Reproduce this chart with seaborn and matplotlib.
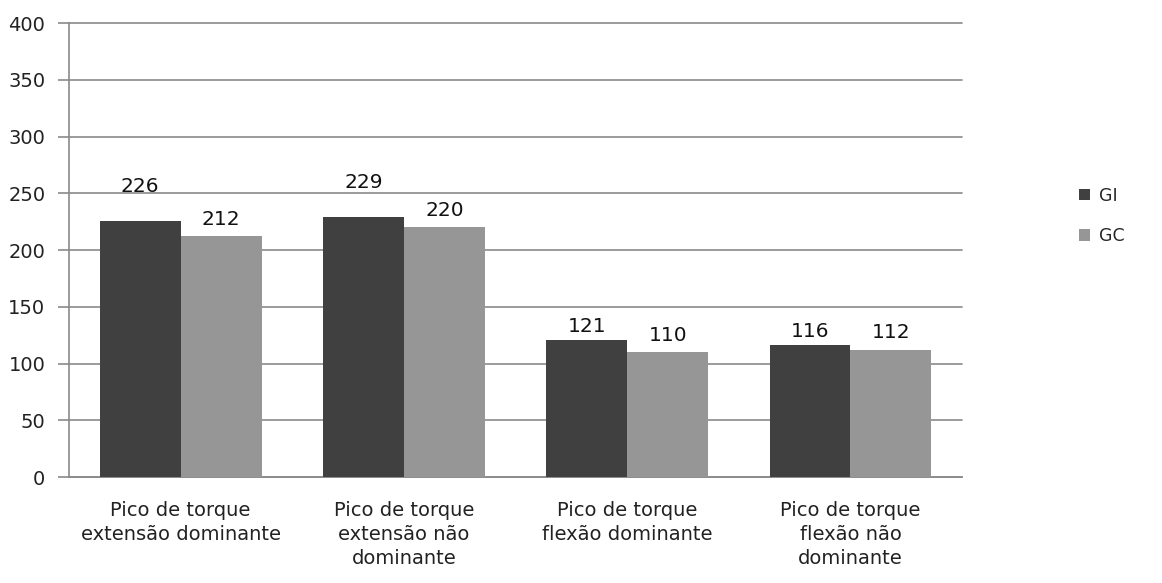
import numpy as np
import pandas as pd
import matplotlib
matplotlib.use("Agg")
import matplotlib.pyplot as plt
import seaborn as sns

categories = [
    "Pico de torque\nextensão dominante",
    "Pico de torque\nextensão não\ndominante",
    "Pico de torque\nflexão dominante",
    "Pico de torque\nflexão não\ndominante",
]
groups = ["GI", "GC"]
gi_values = [226, 229, 121, 116]
gc_values = [212, 220, 110, 112]
y_ticks = [0, 50, 100, 150, 200, 250, 300, 350, 400]

# vertical offset of each value label above its bar, in points
gi_label_offsets = [18, 18, 3, 3]
gc_label_offsets = [5, 5, 5, 6]

df = pd.DataFrame({
    "categoria": categories * 2,
    "grupo": [groups[0]] * len(categories) + [groups[1]] * len(categories),
    "valor": gi_values + gc_values,
})

sns.set_theme(style="white")
plt.rcParams["font.family"] = ["DejaVu Sans"]

fig = plt.figure(figsize=(11.62, 5.83), dpi=100)
ax = fig.add_axes([0.0594, 0.1818, 0.7686, 0.7787])

palette = {"GI": "#404040", "GC": "#969696"}
sns.barplot(data=df, x="categoria", y="valor", hue="grupo", hue_order=groups,
            palette=palette, width=0.725, gap=0, saturation=1,
            edgecolor="none", linewidth=0, ax=ax, zorder=3)

ax.set_xlim(-0.5, len(categories) - 0.5)
ax.set_ylim(0, 400)
ax.set_yticks(y_ticks)
ax.set_yticklabels([str(t) for t in y_ticks], fontsize=14, color="#222222")
ax.yaxis.grid(True, color="#8a8a8a", linewidth=1.2, zorder=0)
for gl in ax.get_ygridlines():
    gl.set_clip_on(False)
ax.xaxis.grid(False)
ax.set_axisbelow(True)

ax.set_xticks(range(len(categories)))
ax.set_xticklabels(categories, fontsize=14, color="#222222", linespacing=1.35)
ax.set_xticks(np.arange(-0.5, len(categories)), minor=True)
ax.tick_params(axis="x", which="major", length=0, pad=17)
ax.tick_params(axis="x", which="minor", length=8, width=1.2, color="#8a8a8a", direction="out")
ax.tick_params(axis="y", length=8, width=1.2, color="#8a8a8a", direction="out", pad=9, left=True)

for side in ["top", "right"]:
    ax.spines[side].set_visible(False)
for side in ["left", "bottom"]:
    ax.spines[side].set_color("#8a8a8a")
    ax.spines[side].set_linewidth(1.2)
ax.set_xlabel("")
ax.set_ylabel("")

for container, vals, offs in zip(ax.containers, [gi_values, gc_values],
                                 [gi_label_offsets, gc_label_offsets]):
    for bar, v, off in zip(container, vals, offs):
        ax.annotate(str(v), (bar.get_x() + bar.get_width() / 2, bar.get_height()),
                    xytext=(0, off), textcoords="offset points",
                    ha="center", va="bottom", fontsize=14.5, color="#111111")

handles, labels = ax.get_legend_handles_labels()
ax.legend(handles, labels, loc="center left", bbox_to_anchor=(1.113, 0.575),
          frameon=False, fontsize=12.5, handlelength=0.65, handleheight=0.65,
          labelspacing=1.3, handletextpad=0.5)

fig.savefig("out.png", dpi=100)
